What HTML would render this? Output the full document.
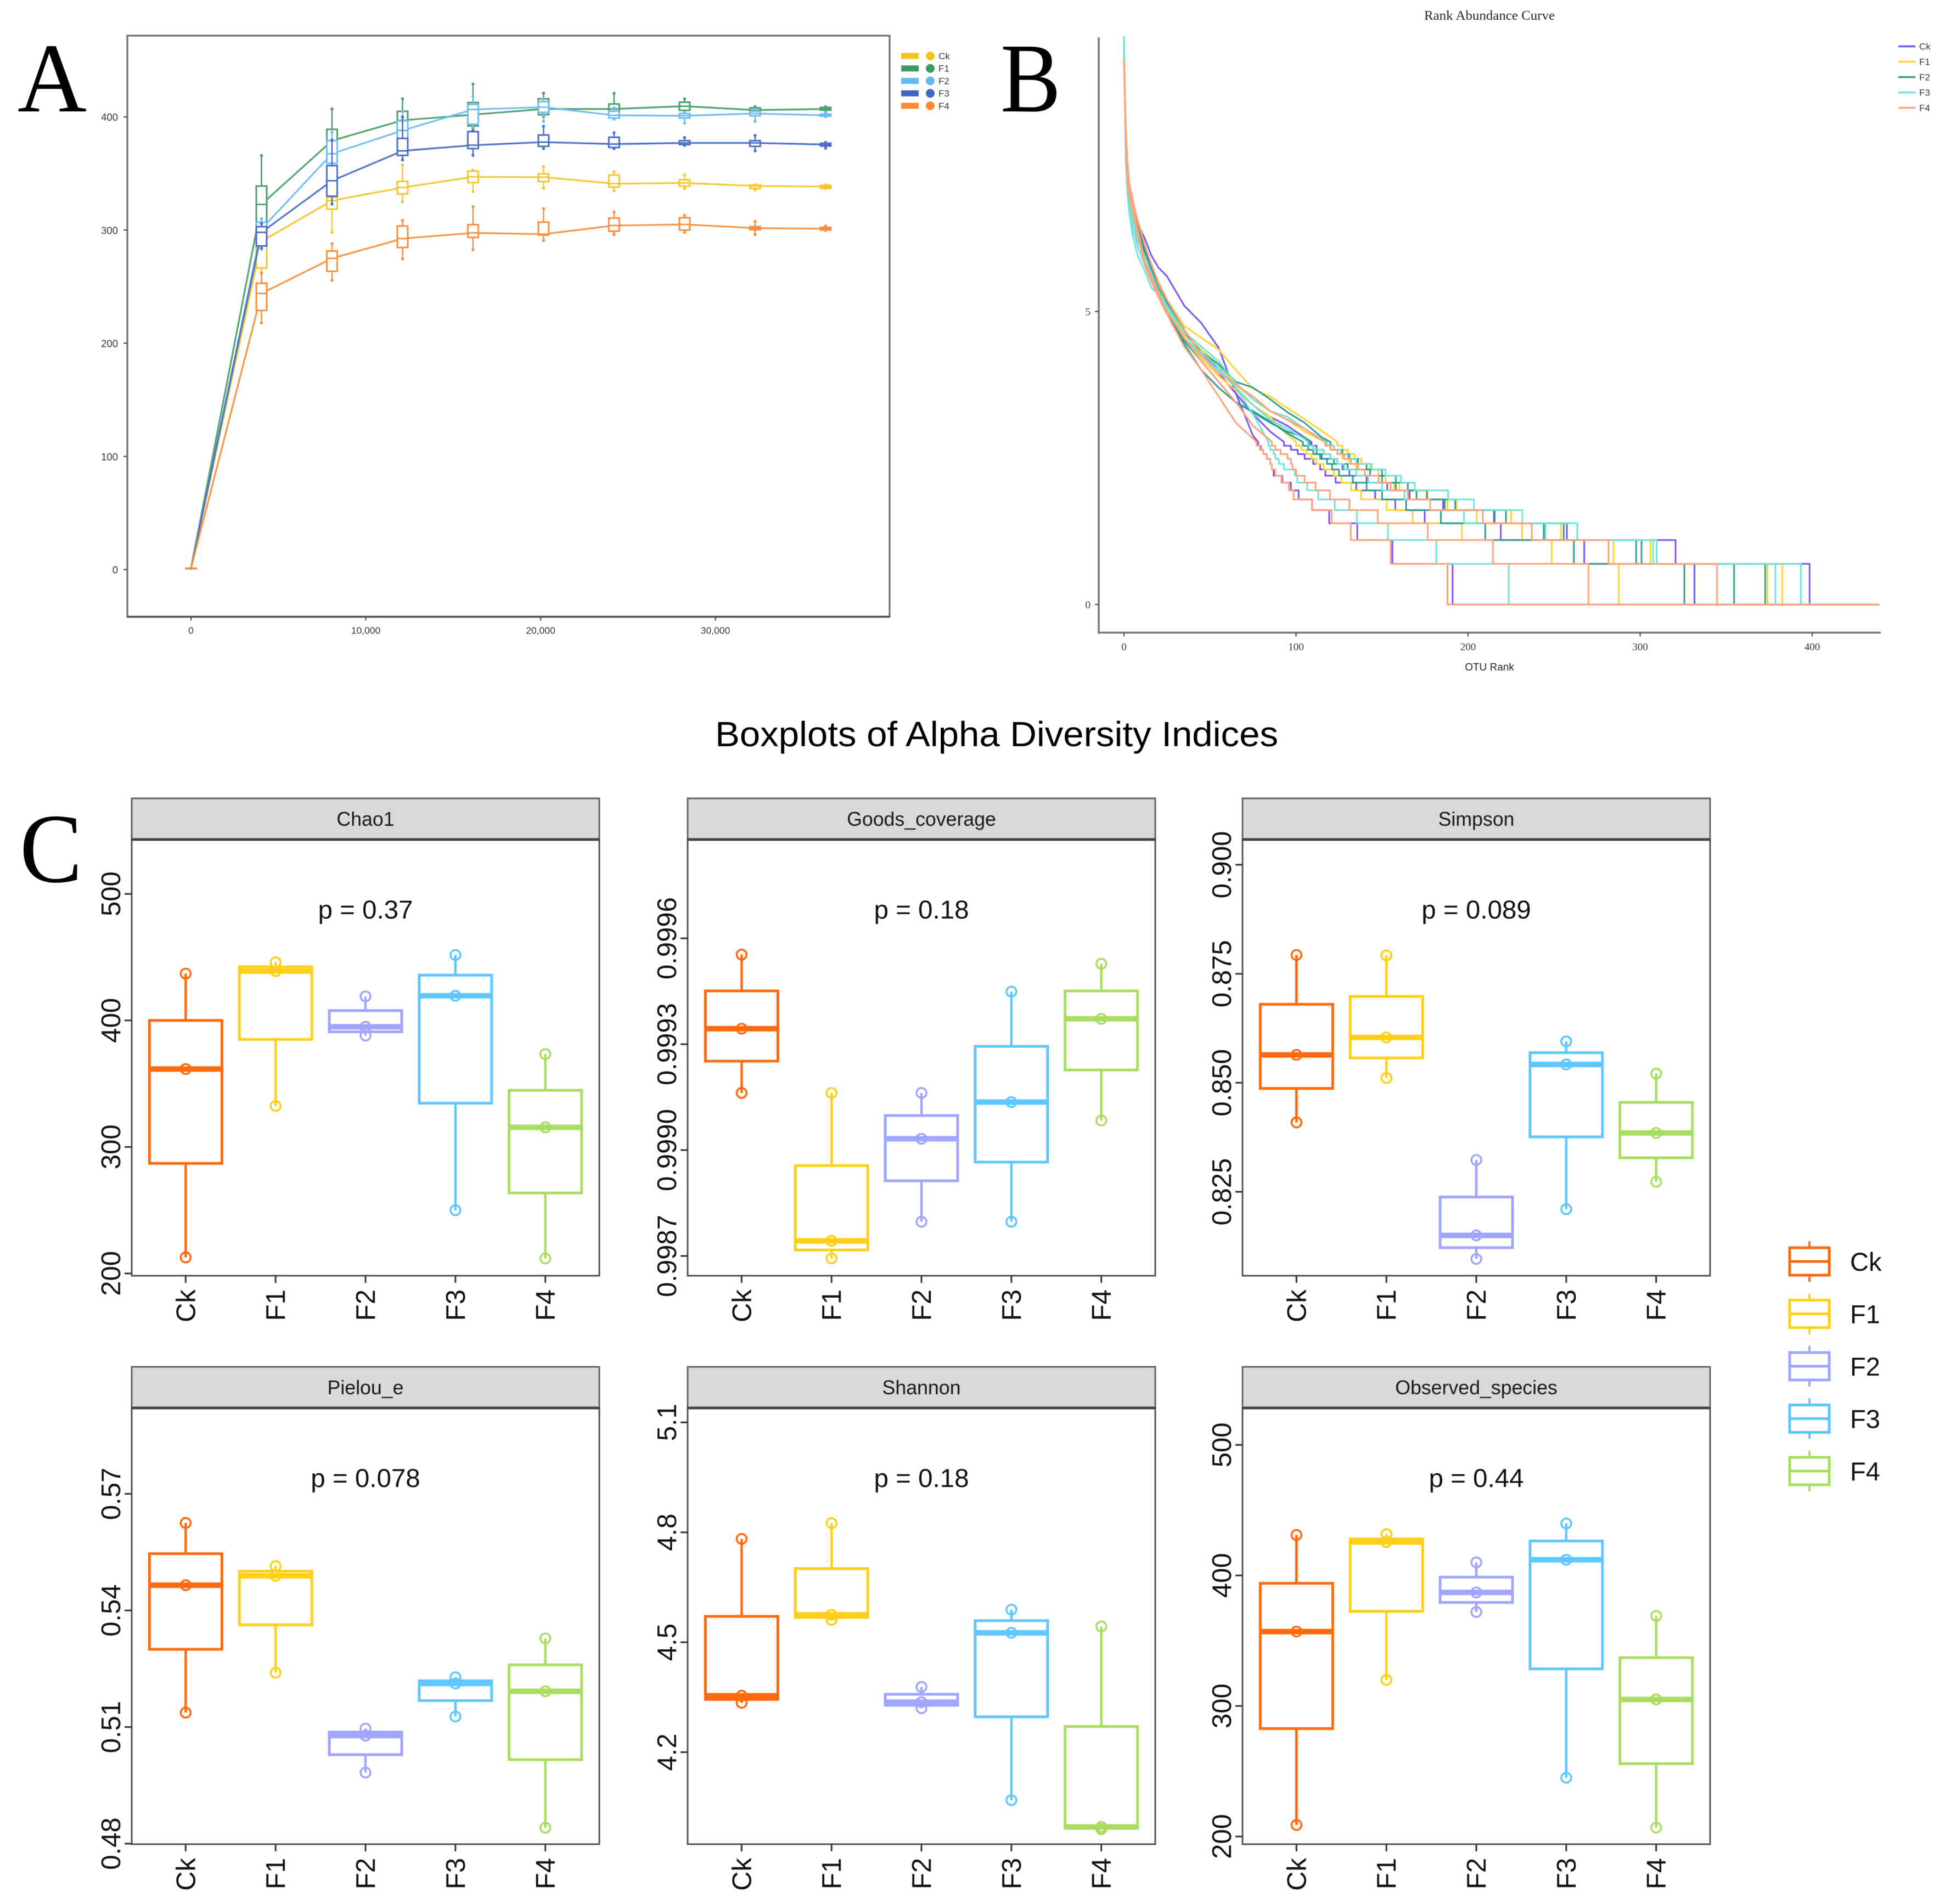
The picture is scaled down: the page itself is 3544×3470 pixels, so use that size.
<!DOCTYPE html>
<html lang="en">
<head>
<meta charset="utf-8">
<title>Alpha diversity figure</title>
<style>
html,body{margin:0;padding:0;background:#fff;width:3544px;height:3470px;overflow:hidden}
svg{display:block;filter:blur(0.7px)}
text{font-family:"Liberation Sans",sans-serif}
.serif{font-family:"Liberation Serif",serif}
</style>
</head>
<body>
<svg id="figure" xmlns="http://www.w3.org/2000/svg" width="3544" height="3470" viewBox="0 0 3544 3470">
<rect width="3544" height="3470" fill="#fff"/>
<text class="serif" x="32" y="203" font-size="180" fill="#000" textLength="126" lengthAdjust="spacingAndGlyphs">A</text>
<text class="serif" x="1823" y="203" font-size="180" fill="#000" textLength="110" lengthAdjust="spacingAndGlyphs">B</text>
<text class="serif" x="36" y="1607" font-size="180" fill="#000" textLength="114" lengthAdjust="spacingAndGlyphs">C</text>
<text class="serif" x="2714" y="36" font-size="24" fill="#222" text-anchor="middle" textLength="238" lengthAdjust="spacingAndGlyphs">Rank Abundance Curve</text>
<text x="2714" y="1222" font-size="19" fill="#222" text-anchor="middle">OTU Rank</text>
<text x="1816" y="1360" font-size="64" fill="#000" text-anchor="middle" textLength="1026" lengthAdjust="spacingAndGlyphs">Boxplots of Alpha Diversity Indices</text>
</svg>
<script>
/* ---------- Panel A: rarefaction ---------- */
const aNames = ['Ck','F1','F2','F3','F4'];
const aColors = ['#f6c52d','#4c9f68','#6fbcf2','#4a6fc5','#f98f3f'];
const aDepths = [0,4034,8068,12102,16136,20170,24204,28238,32272,36306];
const aXTicks = [0,10000,20000,30000];
const aXTickLabels = ['0','10,000','20,000','30,000'];
const aYTicks = [0,100,200,300,400];

const aCkMed  = [1,290,326,337.6,347,346.8,341,341.6,339,338.4];
const aCkQ1   = [1,266.5,318.5,332,342,342.8,338,338.9,336.8,337];
const aCkQ3   = [1,293,329,343,352,349.7,348.6,344.4,339.7,339.5];
const aCkLow  = [1,262,298,325,334,337,334.8,336.8,335.5,336.8];
const aCkHigh = [1,300,332,357.5,353,356,351.6,348.9,340,340];

const aF1Med  = [1,322.7,379,397,402,407,407,409.5,406,407];
const aF1Q1   = [1,302.9,369,387,392,402,403,405.8,404,406];
const aF1Q3   = [1,338.9,389,405,412.7,416,411.4,413,408,408.4];
const aF1Low  = [1,285,360,380,390,400,402,404,402,404];
const aF1High = [1,365.9,407,416,429,421,420.8,416,409,409];

const aF2Med  = [1,301,367.5,388,406.6,408.6,401.4,401,403,401.4];
const aF2Q1   = [1,288,359,380,393.6,404,399,399,401,400.6];
const aF2Q3   = [1,307,379,396.6,411,413.5,405,403,405,402.5];
const aF2Low  = [1,283,345,372,388,396,398,394.6,396,400];
const aF2High = [1,310,386.5,405,418,416,408,404,407,403.8];

const aF3Med  = [1,298,343.6,370,375,377.7,376,377,377,375.6];
const aF3Q1   = [1,286,330,366,372,374,373,375.6,374,374.3];
const aF3Q3   = [1,303,357,381,387,384,382,379,379,376.7];
const aF3Low  = [1,284,323,362,366,372,372,374.8,370,372.3];
const aF3High = [1,305.6,379.6,400,388,391.7,386,381.7,383.6,377.5];

const aF4Med  = [1,244,275,292.5,297.5,296.4,304,305,301.7,301.2];
const aF4Q1   = [1,229,263.5,284.6,293.5,295.6,299,300,300.4,300];
const aF4Q3   = [1,253,281.5,303.6,304.8,307,310.6,310.9,303,302.4];
const aF4Low  = [1,218,255.6,274.5,282.6,290.7,296,298,296,299.6];
const aF4High = [1,262,288,308.5,320.6,319,316,313,307.7,303.6];

/* ---------- Panel B: rank abundance ---------- */
const bNames = ['Ck','F1','F2','F3','F4'];
const bColors = ['#7b52f5','#ffd233','#2f9d90','#6fe3da','#ffa27a'];
const bXTicks = [0,100,200,300,400];
const bYTicks = [0,5];
const bRanks = [0,1,2,3,5,8,12,16,20,25,35,45,55,65,75,85,95,105,115];
const bStepValues = [2.773,2.708,2.639,2.565,2.485,2.398,2.303,2.197,2.079,1.946,1.792,1.609,1.386,1.099,0.693,0];
const bMaxRank = 439;

const ckAValues = [9.6,8.0,7.4,7.2,6.9,6.5,6.25,5.95,5.75,5.6,5.1,4.8,4.38,3.6,2.88];
const ckADrops = [78,79.5,81,83,85,86,87,92,97,101.5,109.3,119.3,135.6,156,191];
const ckBValues = [9.5,8.1,7.3,7.0,6.8,6.4,6.0,5.7,5.4,5.05,4.5,4.25,3.95,3.6,3.25,2.95];
const ckBDrops = [93,97,101,105,110,114,117,123,135,146,157.7,174.8,219,267.5,331.6];
const ckCValues = [9.5,8.0,7.4,7.1,6.85,6.45,6.0,5.7,5.45,5.15,4.65,4.3,4.0,3.7,3.4,3.2,3.05,2.85];
const ckCDrops = [109,112,116,120,124,127,131,141,153,166,185.5,215,257.4,320.6,398.5];

const f1AValues = [9.4,8.0,7.3,7.0,6.75,6.4,6.0,5.7,5.4,5.0,4.55,4.2,3.9,3.65,3.4,3.2,2.9];
const f1ADrops = [100,103,106,109,112,116,122,126.4,132,137.8,152.7,167.7,196.4,248.6,287.6];
const f1BValues = [9.45,8.1,7.45,7.1,6.85,6.4,6.0,5.75,5.45,5.1,4.6,4.35,4.1,3.75,3.5,3.3,3.15,2.95,2.8];
const f1BDrops = [117,120,124,127,131,135,140,150,160,176,193.3,205,231.4,284.5,374];
const f1CValues = [9.4,8.2,7.5,7.2,6.9,6.5,6.1,5.8,5.5,5.2,4.75,4.55,4.35,4.0,3.68,3.55,3.35,3.16,2.96];
const f1CDrops = [124,127,130,134,138,143,148,152,157,176.5,188,225,254,306,382.6];

const f2AValues = [9.6,7.9,7.3,7.0,6.75,6.35,5.95,5.65,5.35,5.0,4.45,4.0,3.7,3.45,3.28,3.1,2.95,2.85];
const f2ADrops = [108,110,112,115,118,121,125,133,141,150,164,184.2,210,261.5,325.7];
const f2BValues = [9.6,8.1,7.4,7.1,6.8,6.4,6.0,5.7,5.4,5.05,4.5,4.15,3.8,3.45,3.3,3.12,2.92];
const f2BDrops = [104,107,110,114,122,130,143,150,158,170,186.4,215.5,244,297.7,354.6];
const f2CValues = [9.55,8.0,7.5,7.15,6.9,6.45,6.05,5.75,5.5,5.15,4.65,4.3,4.1,3.8,3.7,3.5,3.28,3.1,2.85];
const f2CDrops = [120,122,127,131,136,141,150,158,165,176,192.5,222,255.6,300.8,372.7];

const f3AValues = [9.7,7.6,7.0,6.7,6.3,5.95,5.7,5.4,5.3,5.05,4.55,4.25,4.0,3.7,3.25];
const f3ADrops = [84,85,87,88,90,93,99.3,100.7,106.5,112.9,122.5,135.4,153.4,181.5,223.6];
const f3BValues = [9.65,7.8,7.1,6.8,6.45,6.1,5.8,5.55,5.3,5.0,4.55,4.3,4.05,3.7,3.4,3.15,3.0,2.82];
const f3BDrops = [107,110,116,120,124,128,135,142,150,163,178,197.6,245,307.5,378.6];
const f3CValues = [9.65,8.0,7.3,6.9,6.6,6.2,5.95,5.65,5.35,5.1,4.65,4.4,4.15,3.78,3.5,3.3,3.2,3.0,2.82];
const f3CDrops = [118,122,126,130,135,144,152,161,169,188.4,203.5,231.5,263.5,309.6,393.4];

const f4AValues = [9.3,7.9,7.2,7.0,6.7,6.3,5.8,5.5,5.25,4.95,4.4,4.0,3.55,3.1,2.83];
const f4ADrops = [77,79,81,83,85,86,88,91.5,95.8,98.6,109.3,120.7,131.8,155,188];
const f4BValues = [9.3,8.2,7.5,7.1,6.8,6.4,5.85,5.6,5.3,5.0,4.55,4.15,3.8,3.45,3.05,2.8];
const f4BDrops = [86,88,91,95,97,98,100,105,111.4,119.7,131,147.5,176.5,214.4,270];
const f4CValues = [9.3,8.1,7.6,7.2,6.9,6.55,6.15,5.8,5.5,5.2,4.7,4.25,3.95,3.75,3.55,3.3,3.15,3.0,2.8];
const f4CDrops = [117,120,124,128,132,136,140,148,155,165,178,208.6,237,281.6,344.7];

/* ---------- Panel C: boxplots ---------- */
const cGroups = ['Ck','F1','F2','F3','F4'];
const cColors = ['#ff6a0f','#ffcf1a','#a0a5ff','#60c6ff','#a8dd60'];

const chao1Low  = [212.7,332.4,388,250,211.8];
const chao1Q1   = [287,385,391,334.6,263.6];
const chao1Med  = [361.6,439,395,419.5,315.5];
const chao1Q3   = [400,442.4,407.8,435.8,344.8];
const chao1High = [437,446,419,451.7,373.4];
const chao1Ticks = [200,300,400,500];
const chao1TickLabels = ['200','300','400','500'];

const goodsLow  = [0.999162,0.998693,0.998797,0.998797,0.999084];
const goodsQ1   = [0.999252,0.998717,0.998913,0.998966,0.999227];
const goodsMed  = [0.999344,0.998743,0.999032,0.999136,0.999372];
const goodsQ3   = [0.999451,0.998956,0.999098,0.999294,0.999451];
const goodsHigh = [0.999554,0.999162,0.999162,0.999449,0.999528];
const goodsTicks = [0.9987,0.9990,0.9993,0.9996];
const goodsTickLabels = ['0.9987','0.9990','0.9993','0.9996'];

const simpsonLow  = [0.8409,0.8511,0.8096,0.8210,0.8273];
const simpsonQ1   = [0.8487,0.8557,0.8122,0.8376,0.8328];
const simpsonMed  = [0.8564,0.8604,0.8150,0.8542,0.8385];
const simpsonQ3   = [0.8680,0.8698,0.8238,0.8569,0.8455];
const simpsonHigh = [0.8793,0.8792,0.8323,0.8595,0.8521];
const simpsonTicks = [0.825,0.850,0.875,0.900];
const simpsonTickLabels = ['0.825','0.850','0.875','0.900'];

const pielouLow  = [0.5137,0.5240,0.4983,0.5127,0.4841];
const pielouQ1   = [0.5300,0.5363,0.5029,0.5168,0.5016];
const pielouMed  = [0.5465,0.5489,0.5078,0.5212,0.5192];
const pielouQ3   = [0.5546,0.5501,0.5087,0.5219,0.5260];
const pielouHigh = [0.5625,0.5514,0.5096,0.5228,0.5328];
const pielouTicks = [0.48,0.51,0.54,0.57];
const pielouTickLabels = ['0.48','0.51','0.54','0.57'];

const shannonLow  = [4.3346,4.561,4.320,4.069,3.990];
const shannonQ1   = [4.344,4.5676,4.328,4.2965,3.992];
const shannonMed  = [4.354,4.575,4.3365,4.5256,3.996];
const shannonQ3   = [4.5705,4.701,4.358,4.559,4.270];
const shannonHigh = [4.782,4.825,4.378,4.589,4.543];
const shannonTicks = [4.2,4.5,4.8,5.1];
const shannonTickLabels = ['4.2','4.5','4.8','5.1'];

const observedLow  = [208.8,320,372,245,206.8];
const observedQ1   = [282.7,372.5,379.3,328.4,255.8];
const observedMed  = [357,425.6,387,412,305];
const observedQ3   = [394,428,398.7,426.4,337];
const observedHigh = [431,431.6,410,439.8,369];
const observedTicks = [200,300,400,500];
const observedTickLabels = ['200','300','400','500'];

const SVGNS = 'http://www.w3.org/2000/svg';
const root = document.getElementById('figure');
function make(tag, attrs, parent, txt) {
  const n = document.createElementNS(SVGNS, tag);
  for (const k in attrs) n.setAttribute(k, attrs[k]);
  if (txt !== undefined) n.textContent = txt;
  (parent || root).appendChild(n);
  return n;
}
function scale(d0, d1, r0, r1) {
  return function (v) { return r0 + (v - d0) * (r1 - r0) / (d1 - d0); };
}

/* ===== Panel A ===== */
(function () {
  const L = 232, R = 1621, T = 65, B = 1124;
  const x = scale(-3642, 39969, L, R);
  const y = scale(-41.7, 471.8, B, T);
  const g = make('g', {});
  
  
  const frame = make('rect', {x: L, y: T, width: R - L, height: B - T, fill: '#fff', stroke: '#7a7a7a', 'stroke-width': 3.5}, g);
  
  
  const baseLine = make('line', {x1: L, x2: R, y1: B, y2: B, stroke: '#555', 'stroke-width': 3.5}, g);
  
  
  aXTicks.forEach(function (v, i) {
    const t = make('line', {x1: x(v), x2: x(v), y1: B, y2: B + 7, stroke: '#444', 'stroke-width': 2}, g);
    
    
    const lab = make('text', {x: x(v), y: 1155, 'font-size': 17.5, fill: '#333', 'text-anchor': 'middle'}, g, aXTickLabels[i]);
    
    
  });
  aYTicks.forEach(function (v) {
    const t = make('line', {x1: L - 7, x2: L, y1: y(v), y2: y(v), stroke: '#444', 'stroke-width': 2}, g);
    
    
    const lab = make('text', {x: 215, y: y(v) + 7, 'font-size': 18.5, fill: '#333', 'text-anchor': 'end'}, g, String(v));
    
    
  });
  const stats = [
    [aCkLow, aCkQ1, aCkMed, aCkQ3, aCkHigh],
    [aF1Low, aF1Q1, aF1Med, aF1Q3, aF1High],
    [aF2Low, aF2Q1, aF2Med, aF2Q3, aF2High],
    [aF3Low, aF3Q1, aF3Med, aF3Q3, aF3High],
    [aF4Low, aF4Q1, aF4Med, aF4Q3, aF4High]
  ];
  const order = [1, 0, 2, 3, 4];
  order.forEach(function (s) {
    const c = aColors[s], st = stats[s];
    const line = make('polyline', {
      points: aDepths.map(function (d, i) { return x(d) + ',' + y(st[2][i]); }).join(' '),
      fill: 'none', stroke: c, 'stroke-width': 3.2, 'stroke-opacity': 0.95
    }, g);
    
    
    aDepths.forEach(function (d, i) {
      const px = x(d);
      const w = make('line', {x1: px, x2: px, y1: y(st[0][i]), y2: y(st[4][i]), stroke: c, 'stroke-width': 2.6}, g);
      
      
      [st[0][i], st[4][i]].forEach(function (v) {
        const dot = make('circle', {cx: px, cy: y(v), r: 2.8, fill: c}, g);
        
        
      });
      const top = y(st[3][i]), bot = y(st[1][i]);
      const box = make('rect', {x: px - 9.5, y: top, width: 19, height: Math.max(bot - top, 0.5), fill: i === 0 ? 'none' : '#fff', stroke: c, 'stroke-width': 3}, g);
      
      
      const med = make('line', {x1: px - 9.5, x2: px + 9.5, y1: y(st[2][i]), y2: y(st[2][i]), stroke: c, 'stroke-width': 2.8}, g);
      
      
    });
  });
  const legendColors = ['#f5c31f', '#3f9a60', '#63b8f2', '#3f68c4', '#fb8a33'];
  aNames.forEach(function (n, i) {
    const cy = 102 + 22.7 * i;
    const lg = make('g', {}, g);
    
    
    make('rect', {x: 1642, y: cy - 5.5, width: 32, height: 11, fill: legendColors[i]}, lg);
    make('circle', {cx: 1695, cy: cy, r: 8, fill: legendColors[i]}, lg);
    make('text', {x: 1710, y: cy + 6, 'font-size': 17, fill: '#333'}, lg, n);
  });
})();

/* ===== Panel B ===== */
(function () {
  const x = scale(0, 400, 2048, 3302);
  const y = scale(0, 5, 1101.6, 567.6);
  const g = make('g', {});
  
  
  const samples = [
    [0, ckAValues, ckADrops], [0, ckBValues, ckBDrops], [0, ckCValues, ckCDrops],
    [1, f1AValues, f1ADrops], [1, f1BValues, f1BDrops], [1, f1CValues, f1CDrops],
    [2, f2AValues, f2ADrops], [2, f2BValues, f2BDrops], [2, f2CValues, f2CDrops],
    [3, f3AValues, f3ADrops], [3, f3BValues, f3BDrops], [3, f3CValues, f3CDrops],
    [4, f4AValues, f4ADrops], [4, f4BValues, f4BDrops], [4, f4CValues, f4CDrops]
  ];
  samples.forEach(function (s) {
    const vals = s[1], drops = s[2];
    let d = 'M' + vals.map(function (v, i) { return x(bRanks[i]) + ' ' + y(v); }).join('L');
    drops.forEach(function (r, i) {
      d += 'L' + x(r) + ' ' + y(bStepValues[i]);
      d += 'L' + x(r) + ' ' + y(bStepValues[i + 1]);
    });
    d += 'L' + x(bMaxRank) + ' ' + y(0);
    const p = make('path', {d: d, fill: 'none', stroke: bColors[s[0]], 'stroke-width': 3, 'stroke-linejoin': 'round'}, g);
    
    
  });
  const yAxis = make('line', {x1: 2002, x2: 2002, y1: 68, y2: 1155, stroke: '#777', 'stroke-width': 3.5}, g);
  
  
  const xAxis = make('line', {x1: 2000, x2: 3427, y1: 1153, y2: 1153, stroke: '#777', 'stroke-width': 3.5}, g);
  
  
  bXTicks.forEach(function (v) {
    const t = make('line', {x1: x(v), x2: x(v), y1: 1153, y2: 1160, stroke: '#444', 'stroke-width': 2}, g);
    
    
    const lab = make('text', {x: x(v), y: 1185, 'font-size': 19, fill: '#333', 'text-anchor': 'middle', 'class': 'serif'}, g, String(v));
    
    
  });
  bYTicks.forEach(function (v) {
    const t = make('line', {x1: 1995, x2: 2002, y1: y(v), y2: y(v), stroke: '#444', 'stroke-width': 2}, g);
    
    
    const lab = make('text', {x: 1987, y: y(v) + 7, 'font-size': 19, fill: '#333', 'text-anchor': 'end', 'class': 'serif'}, g, String(v));
    
    
  });
  bNames.forEach(function (n, i) {
    const cy = 84.5 + 28 * i;
    const lg = make('g', {}, g);
    
    
    make('line', {x1: 3459, x2: 3490, y1: cy, y2: cy, stroke: bColors[i], 'stroke-width': 3.5}, lg);
    make('text', {x: 3497, y: cy + 6, 'font-size': 17, fill: '#333'}, lg, n);
  });
})();

/* ===== Panel C ===== */
(function () {
  const panels = [
    {name: 'Chao1', p: 'p = 0.37', x: 240, top: 1455, dom: [198.2, 543], s: [chao1Low, chao1Q1, chao1Med, chao1Q3, chao1High], t: chao1Ticks, l: chao1TickLabels},
    {name: 'Goods_coverage', p: 'p = 0.18', x: 1253, top: 1455, dom: [0.998644, 0.999880], s: [goodsLow, goodsQ1, goodsMed, goodsQ3, goodsHigh], t: goodsTicks, l: goodsTickLabels},
    {name: 'Simpson', p: 'p = 0.089', x: 2264, top: 1455, dom: [0.80575, 0.90579], s: [simpsonLow, simpsonQ1, simpsonMed, simpsonQ3, simpsonHigh], t: simpsonTicks, l: simpsonTickLabels},
    {name: 'Pielou_e', p: 'p = 0.078', x: 240, top: 2491, dom: [0.47986, 0.59209], s: [pielouLow, pielouQ1, pielouMed, pielouQ3, pielouHigh], t: pielouTicks, l: pielouTickLabels},
    {name: 'Shannon', p: 'p = 0.18', x: 1253, top: 2491, dom: [3.9489, 5.1393], s: [shannonLow, shannonQ1, shannonMed, shannonQ3, shannonHigh], t: shannonTicks, l: shannonTickLabels},
    {name: 'Observed_species', p: 'p = 0.44', x: 2264, top: 2491, dom: [194.1, 528.3], s: [observedLow, observedQ1, observedMed, observedQ3, observedHigh], t: observedTicks, l: observedTickLabels}
  ];
  const W = 852, STRIP = 75, H = 795;
  panels.forEach(function (P) {
    const slug = P.name.toLowerCase().replace('_', '-');
    const g = make('g', {});
    
    
    const pT = P.top + STRIP, pB = pT + H;
    const y = scale(P.dom[0], P.dom[1], pB, pT);
    const step = W / 5.2;
    const cx = function (i) { return P.x + step * (0.6 + i); };
    const strip = make('rect', {x: P.x, y: P.top, width: W, height: STRIP, fill: '#d9d9d9', stroke: '#666', 'stroke-width': 3}, g);
    
    
    const stripText = make('text', {x: P.x + W / 2, y: P.top + 50, 'font-size': 35.7, fill: '#1a1a1a', 'text-anchor': 'middle'}, g, P.name);
    
    
    const frame = make('rect', {x: P.x, y: pT, width: W, height: H, fill: '#fff', stroke: '#555', 'stroke-width': 3}, g);
    
    
    const sep = make('line', {x1: P.x - 1, x2: P.x + W + 1, y1: pT, y2: pT, stroke: '#444', 'stroke-width': 5}, g);
    
    
    const pLabel = make('text', {x: P.x + W / 2, y: pT + 144, 'font-size': 47.5, fill: '#111', 'text-anchor': 'middle'}, g, P.p);
    
    
    P.t.forEach(function (v, i) {
      const ty = y(v);
      const t = make('line', {x1: P.x - 13, x2: P.x, y1: ty, y2: ty, stroke: '#333', 'stroke-width': 3}, g);
      
      
      const bx = P.x - 21;
      const lab = make('text', {x: bx, y: ty, 'font-size': 49, fill: '#111', 'text-anchor': 'middle', transform: 'rotate(-90 ' + bx + ' ' + ty + ')'}, g, P.l[i]);
      
      
    });
    cGroups.forEach(function (name, i) {
      const c = cColors[i], px = cx(i);
      const t = make('line', {x1: px, x2: px, y1: pB, y2: pB + 13, stroke: '#333', 'stroke-width': 3}, g);
      
      
      const bx = px + 17, by = pB + 25;
      const lab = make('text', {x: bx, y: by, 'font-size': 49, fill: '#111', 'text-anchor': 'end', transform: 'rotate(-90 ' + bx + ' ' + by + ')'}, g, name);
      
      
      const low = P.s[0][i], q1 = P.s[1][i], med = P.s[2][i], q3 = P.s[3][i], high = P.s[4][i];
      const w1 = make('line', {x1: px, x2: px, y1: y(q3), y2: y(high), stroke: c, 'stroke-width': 4.5}, g);
      
      
      const w2 = make('line', {x1: px, x2: px, y1: y(q1), y2: y(low), stroke: c, 'stroke-width': 4.5}, g);
      
      
      const box = make('rect', {x: px - 66, y: y(q3), width: 132, height: y(q1) - y(q3), fill: 'none', stroke: c, 'stroke-width': 5}, g);
      
      
      const m = make('line', {x1: px - 66, x2: px + 66, y1: y(med), y2: y(med), stroke: c, 'stroke-width': 10}, g);
      
      
      [low, med, high].forEach(function (v) {
        const pt = make('circle', {cx: px, cy: y(v), r: 9, fill: 'none', stroke: c, 'stroke-width': 3.6}, g);
        
        
      });
    });
  });
  cGroups.forEach(function (n, i) {
    const cy = 2299 + 95.5 * i, cxk = 3297;
    const lg = make('g', {});
    
    
    make('line', {x1: cxk, x2: cxk, y1: cy - 37, y2: cy + 37, stroke: cColors[i], 'stroke-width': 4}, lg);
    make('rect', {x: cxk - 36, y: cy - 25, width: 72, height: 50, fill: '#fff', stroke: cColors[i], 'stroke-width': 5}, lg);
    make('line', {x1: cxk - 36, x2: cxk + 36, y1: cy, y2: cy, stroke: cColors[i], 'stroke-width': 5}, lg);
    make('text', {x: 3371, y: cy + 17, 'font-size': 47, fill: '#111'}, lg, n);
  });
})();
</script>
</body>
</html>
